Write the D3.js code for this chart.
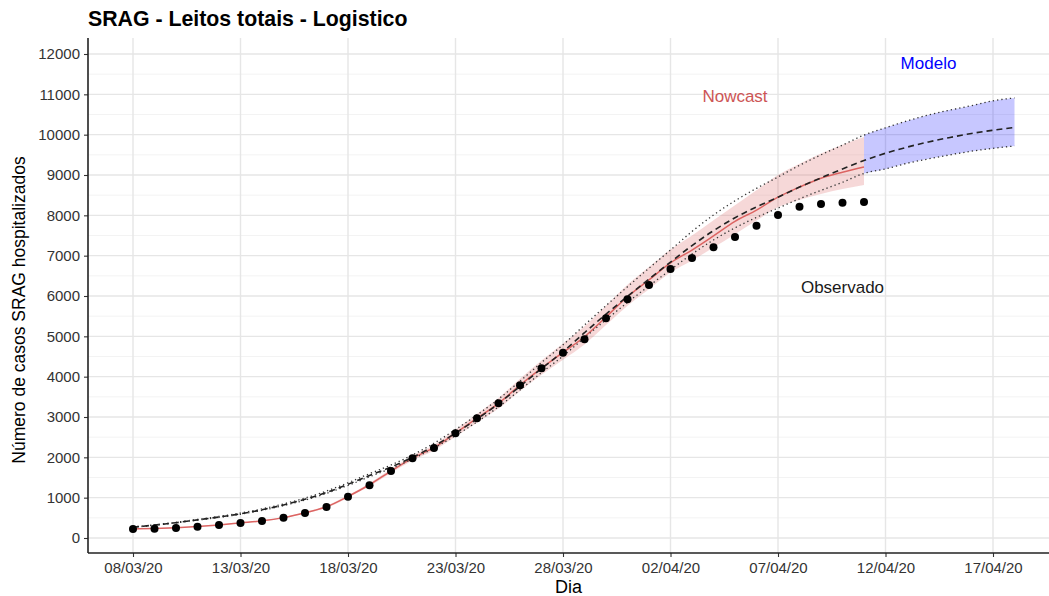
<!DOCTYPE html>
<html>
<head>
<meta charset="utf-8">
<script src="https://cdn.jsdelivr.net/npm/d3@7"></script>
<style>
body { margin: 0; background: #fff; }
svg { display: block; font-family: "Liberation Sans", Arial, sans-serif; }
</style>
</head>
<body>
<svg id="chart" width="1049" height="596"></svg>
<script>
// DATA (one value per day, starting 08/03/20)
var START = "08/03/20";

var observed = [
    225, 230, 250, 280, 320, 370, 420, 500, 620, 770,
    1020, 1310, 1660, 1980, 2230, 2600, 2970, 3340, 3790, 4210,
    4590, 4930, 5450, 5920, 6270, 6670, 6940, 7210, 7460, 7740,
    8010, 8210, 8280, 8310, 8330
];

var nowcastMed = [
    225, 235, 255, 285, 325, 375, 425, 505, 625, 775,
    1030, 1320, 1660, 1980, 2240, 2600, 2970, 3340, 3790, 4210,
    4600, 4990, 5480, 5980, 6400, 6820, 7140, 7490, 7850, 8130,
    8450, 8700, 8920, 9070, 9200
];

var nowcastLow = [
    220, 230, 248, 277, 315, 363, 410, 488, 605, 750,
    1000, 1280, 1610, 1920, 2170, 2510, 2860, 3210, 3640, 4050,
    4420, 4800, 5280, 5760, 6170, 6580, 6880, 7200, 7530, 7870,
    8200, 8380, 8530, 8650, 8750
];

var nowcastHigh = [
    230, 240, 262, 293, 335, 387, 440, 522, 645, 800,
    1060, 1360, 1710, 2040, 2310, 2690, 3080, 3470, 3950, 4400,
    4820, 5250, 5760, 6280, 6720, 7150, 7500, 7880, 8250, 8620,
    9000, 9280, 9530, 9750, 9940
];

var modelMed = [
    270, 320, 380, 450, 520, 600, 700, 820, 960, 1130,
    1330, 1550, 1760, 2000, 2280, 2600, 2950, 3330, 3760, 4200,
    4620, 5090, 5550, 5990, 6420, 6840, 7250, 7620, 7940, 8210,
    8450, 8700, 8930, 9150, 9360, 9540, 9690, 9820, 9930, 10030,
    10110, 10180
];

var modelLow = [
    267, 315, 374, 442, 510, 588, 686, 803, 940, 1106,
    1302, 1518, 1724, 1958, 2230, 2540, 2880, 3250, 3670, 4100,
    4510, 4965, 5410, 5840, 6250, 6650, 7040, 7390, 7690, 7950,
    8180, 8410, 8620, 8820, 9040, 9150, 9290, 9400, 9500, 9590,
    9660, 9720
];

var modelHigh = [
    275, 328, 390, 462, 535, 618, 722, 846, 990, 1165,
    1370, 1595, 1810, 2060, 2350, 2690, 3050, 3445, 3890, 4350,
    4790, 5280, 5760, 6230, 6690, 7140, 7600, 8010, 8360, 8670,
    8950, 9240, 9500, 9740, 9990, 10170, 10340, 10490, 10610, 10720,
    10840, 10910
];

var MODEL_BAND_START = 34; // 11/04/20

var xTicks = ["08/03/20", "13/03/20", "18/03/20", "23/03/20", "28/03/20",
              "02/04/20", "07/04/20", "12/04/20", "17/04/20"];
var yTicks = [0, 1000, 2000, 3000, 4000, 5000, 6000, 7000, 8000, 9000, 10000, 11000, 12000];
var yMinor = [500, 1500, 2500, 3500, 4500, 5500, 6500, 7500, 8500, 9500, 10500, 11500];

var labels = [
    {text: "Modelo", date: "14/04/20", value: 11630, color: "#0000ff"},
    {text: "Nowcast", date: "05/04/20", value: 10800, color: "#cd5555"},
    {text: "Observado", date: "10/04/20", value: 6075, color: "#1a1a1a"}
];

// LAYOUT
var PANEL = {left: 88, right: 1049, top: 38, bottom: 553};
var RED = "#dc6462";

var parse = d3.timeParse("%d/%m/%y");
var start = parse(START);
function day(i) { return d3.timeDay.offset(start, i); }

var x = d3.scaleTime()
    .domain([parse(xTicks[0]), parse(xTicks[xTicks.length - 1])])
    .range([133, 993]);
var y = d3.scaleLinear()
    .domain([0, 12000])
    .range([538, 54]);

var svg = d3.select("#chart");

svg.append("defs").append("clipPath").attr("id", "clip")
    .append("rect")
    .attr("x", PANEL.left).attr("y", PANEL.top)
    .attr("width", PANEL.right - PANEL.left)
    .attr("height", PANEL.bottom - PANEL.top);

// grid
var grid = svg.append("g");
grid.selectAll(".minor").data(yMinor).enter().append("line")
    .attr("x1", PANEL.left).attr("x2", PANEL.right)
    .attr("y1", function(d) { return y(d); })
    .attr("y2", function(d) { return y(d); })
    .attr("stroke", "#f0f0f0").attr("stroke-width", 0.8);
grid.selectAll(".major").data(yTicks).enter().append("line")
    .attr("x1", PANEL.left).attr("x2", PANEL.right)
    .attr("y1", function(d) { return y(d); })
    .attr("y2", function(d) { return y(d); })
    .attr("stroke", "#e6e6e6").attr("stroke-width", 1.4);
grid.selectAll(".vmajor").data(xTicks).enter().append("line")
    .attr("x1", function(d) { return x(parse(d)); })
    .attr("x2", function(d) { return x(parse(d)); })
    .attr("y1", PANEL.top).attr("y2", PANEL.bottom)
    .attr("stroke", "#e6e6e6").attr("stroke-width", 1.4);

var plot = svg.append("g").attr("clip-path", "url(#clip)");

// nowcast band
var nowIdx = d3.range(nowcastMed.length);
plot.append("path")
    .datum(nowIdx)
    .attr("d", d3.area()
        .x(function(i) { return x(day(i)); })
        .y0(function(i) { return y(nowcastLow[i]); })
        .y1(function(i) { return y(nowcastHigh[i]); })
        .curve(d3.curveMonotoneX))
    .attr("fill", "rgba(220, 100, 100, 0.25)");

// model band (projection only)
var modIdx = d3.range(MODEL_BAND_START, modelMed.length);
plot.append("path")
    .datum(modIdx)
    .attr("d", d3.area()
        .x(function(i) { return x(day(i)); })
        .y0(function(i) { return y(modelLow[i]); })
        .y1(function(i) { return y(modelHigh[i]); })
        .curve(d3.curveMonotoneX))
    .attr("fill", "rgba(0, 0, 255, 0.22)");

// nowcast line
plot.append("path")
    .datum(nowIdx)
    .attr("d", d3.line()
        .x(function(i) { return x(day(i)); })
        .y(function(i) { return y(nowcastMed[i]); })
        .curve(d3.curveMonotoneX))
    .attr("fill", "none")
    .attr("stroke", RED)
    .attr("stroke-width", 1.5);

// model lines
var allIdx = d3.range(modelMed.length);
function modelLine(values, dash, width, color) {
    plot.append("path")
        .datum(allIdx)
        .attr("d", d3.line()
            .x(function(i) { return x(day(i)); })
            .y(function(i) { return y(values[i]); })
            .curve(d3.curveMonotoneX))
        .attr("fill", "none")
        .attr("stroke", color)
        .attr("stroke-width", width)
        .attr("stroke-dasharray", dash);
}
modelLine(modelLow, "1.3 3", 1.3, "#333");
modelLine(modelHigh, "1.3 3", 1.3, "#333");
modelLine(modelMed, "6 4", 1.6, "#222");

// observed points
plot.selectAll(".obs").data(observed).enter().append("circle")
    .attr("cx", function(d, i) { return x(day(i)); })
    .attr("cy", function(d) { return y(d); })
    .attr("r", 4)
    .attr("fill", "#000");

// axes
var xAxis = svg.append("g")
    .attr("transform", "translate(0," + PANEL.bottom + ")")
    .call(d3.axisBottom(x)
        .tickValues(xTicks.map(parse))
        .tickFormat(d3.timeFormat("%d/%m/%y"))
        .tickSize(4)
        .tickPadding(5));
xAxis.select(".domain").remove();
xAxis.selectAll(".tick line").attr("stroke", "#333").attr("stroke-width", 1.1);
xAxis.selectAll(".tick text")
    .attr("fill", "#333").attr("font-size", 15)
    .attr("font-family", "Liberation Sans, Arial, sans-serif");

var yAxis = svg.append("g")
    .attr("transform", "translate(" + PANEL.left + ",0)")
    .call(d3.axisLeft(y)
        .tickValues(yTicks)
        .tickFormat(d3.format("d"))
        .tickSize(4)
        .tickPadding(4));
yAxis.select(".domain").remove();
yAxis.selectAll(".tick line").attr("stroke", "#333").attr("stroke-width", 1.1);
yAxis.selectAll(".tick text")
    .attr("fill", "#333").attr("font-size", 15)
    .attr("font-family", "Liberation Sans, Arial, sans-serif");

svg.append("line")
    .attr("x1", PANEL.left).attr("x2", PANEL.left)
    .attr("y1", PANEL.top).attr("y2", PANEL.bottom)
    .attr("stroke", "#222").attr("stroke-width", 1.6);
svg.append("line")
    .attr("x1", PANEL.left).attr("x2", PANEL.right)
    .attr("y1", PANEL.bottom).attr("y2", PANEL.bottom)
    .attr("stroke", "#222").attr("stroke-width", 1.6);

// annotations
svg.selectAll(".lab").data(labels).enter().append("text")
    .attr("x", function(d) { return x(parse(d.date)); })
    .attr("y", function(d) { return y(d.value); })
    .attr("text-anchor", "middle")
    .attr("font-size", 17)
    .attr("fill", function(d) { return d.color; })
    .text(function(d) { return d.text; });

// titles
svg.append("text")
    .attr("x", PANEL.left)
    .attr("y", 26)
    .attr("font-size", 21.3)
    .attr("font-weight", "bold")
    .attr("fill", "#000")
    .text("SRAG - Leitos totais - Logistico");

svg.append("text")
    .attr("x", (PANEL.left + PANEL.right) / 2)
    .attr("y", 593)
    .attr("text-anchor", "middle")
    .attr("font-size", 18)
    .attr("fill", "#000")
    .text("Dia");

svg.append("text")
    .attr("transform", "translate(25," + 310 + ") rotate(-90)")
    .attr("text-anchor", "middle")
    .attr("font-size", 17.5)
    .attr("fill", "#000")
    .text("Número de casos SRAG hospitalizados");
</script>
</body>
</html>
